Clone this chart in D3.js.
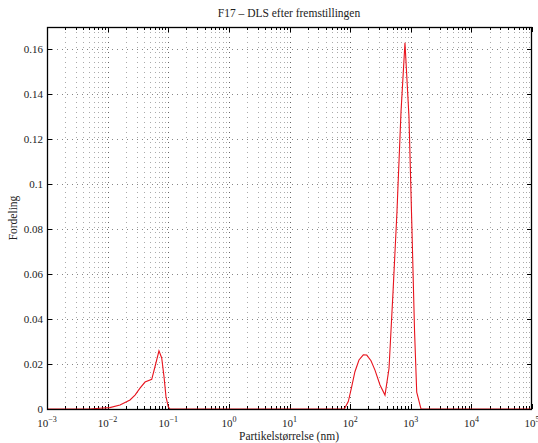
<!DOCTYPE html>
<html><head><meta charset="utf-8">
<script src="https://cdn.jsdelivr.net/npm/d3@7"></script>
<style>body{margin:0;background:#fff}svg{display:block}text{font-family:"Liberation Serif","DejaVu Serif",serif;fill:#222}</style>
</head><body><svg id="c" width="538" height="443"></svg>
<script>
const titleText = "F17 – DLS efter fremstillingen";
const xLabel = "Partikelstørrelse (nm)";
const yLabel = "Fordeling";
const sizesNm = [0.001, 0.005, 0.0075, 0.0109, 0.016, 0.0234, 0.0283, 0.0342, 0.0414, 0.0534, 0.0604, 0.0703, 0.078, 0.0851, 0.0918, 0.1, 0.107,
  80.2, 93.3, 106, 120, 140, 165, 188, 221, 257, 311, 376, 438, 510, 593, 690, 803, 935, 1049, 1154, 1254, 1476, 100000];
const fordeling = [0, 0, 0.0003, 0.0006, 0.0018, 0.004, 0.0062, 0.0093, 0.012, 0.0132, 0.0188, 0.0259, 0.0227, 0.0144, 0.0055, 0.001, 0,
  0, 0.0033, 0.0099, 0.0166, 0.0218, 0.0241, 0.024, 0.0215, 0.0173, 0.0107, 0.0062, 0.018, 0.052, 0.088, 0.132, 0.163, 0.13, 0.079, 0.035, 0.0075, 0, 0];
const xTickExps = [-3, -2, -1, 0, 1, 2, 3, 4, 5];
const yTicks = [0, 0.02, 0.04, 0.06, 0.08, 0.1, 0.12, 0.14, 0.16];

const L = 47, R = 532, T = 27, B = 409;
const svg = d3.select("#c");
const x = d3.scaleLog().domain([1e-3, 1e5]).range([L, R]);
const y = d3.scaleLinear().domain([0, 0.17]).range([B, T]);

const minor = [];
for (let e = -3; e < 5; e++) for (let m = 2; m <= 9; m++) minor.push(m * Math.pow(10, e));
const major = xTickExps.map(e => Math.pow(10, e));

const g = svg.append("g");
g.selectAll(".mg").data(minor).join("line")
  .attr("x1", d => Math.round(x(d)) + 0.5).attr("x2", d => Math.round(x(d)) + 0.5)
  .attr("y1", T).attr("y2", B).attr("stroke", "#aaa").attr("stroke-width", 1).attr("stroke-dasharray", "1,4");
g.selectAll(".Mg").data(major.slice(1, -1)).join("line")
  .attr("x1", d => Math.round(x(d)) + 0.5).attr("x2", d => Math.round(x(d)) + 0.5)
  .attr("y1", T).attr("y2", B).attr("stroke", "#666").attr("stroke-width", 1).attr("stroke-dasharray", "1,4");
g.selectAll(".hg").data(yTicks.slice(1)).join("line")
  .attr("x1", L).attr("x2", R)
  .attr("y1", d => Math.round(y(d)) + 0.5).attr("y2", d => Math.round(y(d)) + 0.5)
  .attr("stroke", "#888").attr("stroke-width", 1).attr("stroke-dasharray", "1,4");

const tk = svg.append("g").attr("stroke", "#000").attr("stroke-width", 1);
major.forEach(d => {
  const px = Math.round(x(d)) + 0.5;
  tk.append("line").attr("x1", px).attr("x2", px).attr("y1", B).attr("y2", B - 5);
  tk.append("line").attr("x1", px).attr("x2", px).attr("y1", T).attr("y2", T + 5);
});
minor.forEach(d => {
  const px = Math.round(x(d)) + 0.5;
  tk.append("line").attr("x1", px).attr("x2", px).attr("y1", B).attr("y2", B - 3);
  tk.append("line").attr("x1", px).attr("x2", px).attr("y1", T).attr("y2", T + 3);
});
yTicks.forEach(d => {
  const py = Math.round(y(d)) + 0.5;
  tk.append("line").attr("x1", L).attr("x2", L + 5).attr("y1", py).attr("y2", py);
  tk.append("line").attr("x1", R).attr("x2", R - 5).attr("y1", py).attr("y2", py);
});

const line = d3.line().x(d => x(d[0])).y(d => y(d[1]));
svg.append("path").datum(sizesNm.map((s, i) => [s, fordeling[i]]))
  .attr("d", line).attr("fill", "none").attr("stroke", "#e8141e").attr("stroke-width", 1.1);

svg.append("rect").attr("x", L + 0.5).attr("y", T + 0.5).attr("width", R - L - 1).attr("height", B - T)
  .attr("fill", "none").attr("stroke", "#000").attr("stroke-width", 1.3);

xTickExps.forEach(e => {
  const t = svg.append("text").attr("x", x(Math.pow(10, e))).attr("y", 427).attr("text-anchor", "middle").attr("font-size", 11);
  t.append("tspan").text("10");
  t.append("tspan").attr("dy", -5).attr("font-size", 8).text(e < 0 ? "−" + Math.abs(e) : String(e));
});
yTicks.forEach(d => {
  svg.append("text").attr("x", 43).attr("y", y(d) + 4).attr("text-anchor", "end").attr("font-size", 11)
    .text(d === 0 ? "0" : String(d));
});
svg.append("text").attr("x", 289).attr("y", 17).attr("text-anchor", "middle").attr("font-size", 11.5).text(titleText);
svg.append("text").attr("x", 289).attr("y", 440).attr("text-anchor", "middle").attr("font-size", 11.5).text(xLabel);
svg.append("text").attr("transform", "translate(17,218) rotate(-90)").attr("text-anchor", "middle").attr("font-size", 11.5).text(yLabel);
</script></body></html>
